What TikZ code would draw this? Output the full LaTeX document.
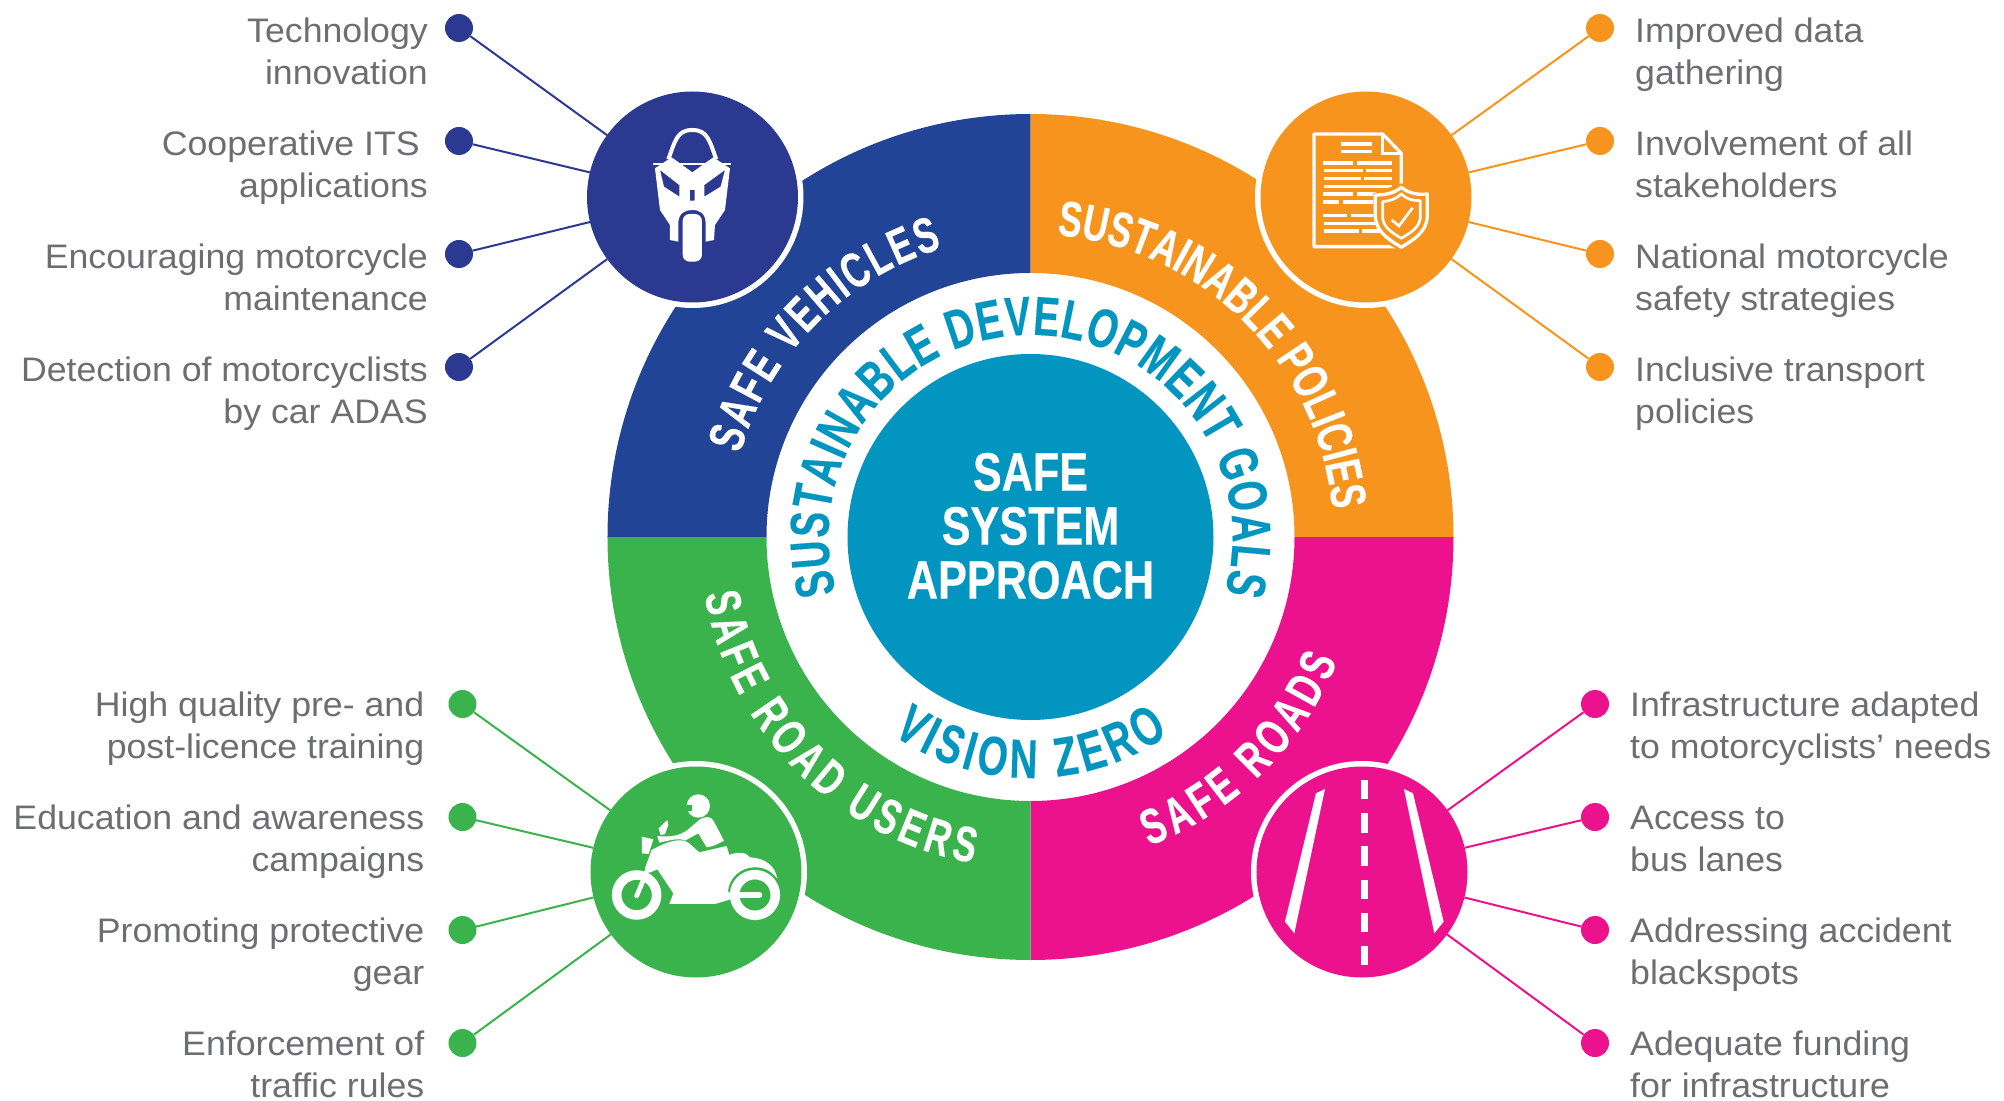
\documentclass[tikz,border=0pt]{standalone}
\usepackage{fontspec}
\usetikzlibrary{positioning,decorations.text}
\setmainfont[FakeStretch=1.05]{Liberation Sans}
\newfontfamily\condfont[FakeStretch=0.8,FakeBold=0.3,UprightFont=* Bold]{Liberation Sans}
\newfontfamily\arcfont[FakeStretch=0.7,FakeBold=0.3,UprightFont=* Bold]{Liberation Sans}
\definecolor{segblue}{HTML}{224496}
\definecolor{iconblue}{HTML}{2B3A90}
\definecolor{segorange}{HTML}{F7941E}
\definecolor{seggreen}{HTML}{3BB34C}
\definecolor{segpink}{HTML}{EC118C}
\definecolor{coreteal}{HTML}{0295C0}
\definecolor{labelgrey}{HTML}{6D6E71}
\tikzset{
  icon/.style={circle,fill=#1,minimum size=211pt,inner sep=0pt,outer sep=0pt,
    preaction={draw=white,line width=11pt}},
  dot/.style={circle,fill=#1,minimum size=28pt,inner sep=0pt,outer sep=0pt},
  lefttxt/.style={font=\fontsize{34}{42}\selectfont,text=labelgrey,align=right,inner sep=0pt,anchor=base east},
  righttxt/.style={font=\fontsize{34}{42}\selectfont,text=labelgrey,align=left,inner sep=0pt,anchor=base west},
  ringtxt/.style={decorate,decoration={text along path,text align={fit to path},
    text={|\arcfont\fontsize{50}{50}\selectfont\color{white}|#1}}},
  coretxt/.style={decorate,decoration={text along path,text align={fit to path},
    text={|\arcfont\fontsize{55}{55}\selectfont\color{coreteal}|#1}}},
}
\begin{document}
\begin{tikzpicture}[x=1pt,y=1pt,node distance=113pt,on grid]
    \useasboundingbox (-1030.5,-563) rectangle (973.5,537);
    % quarter segments
    \fill[segblue] (180:423pt) arc[start angle=180,end angle=90,radius=423pt]
        -- (90:264pt) arc[start angle=90,end angle=180,radius=264pt] -- cycle;
    \fill[segorange] (90:423pt) arc[start angle=90,end angle=0,radius=423pt]
        -- (0:264pt) arc[start angle=0,end angle=90,radius=264pt] -- cycle;
    \fill[segpink] (0:423pt) arc[start angle=0,end angle=-90,radius=423pt]
        -- (-90:264pt) arc[start angle=-90,end angle=0,radius=264pt] -- cycle;
    \fill[seggreen] (-90:423pt) arc[start angle=-90,end angle=-180,radius=423pt]
        -- (180:264pt) arc[start angle=180,end angle=270,radius=264pt] -- cycle;
    \node[circle,fill=coreteal,minimum size=366pt,inner sep=0pt] (core) at (0,0) {};
    \node[text=white,align=center,font=\condfont\fontsize{54}{54}\selectfont] (title) at (0,11) {SAFE\\SYSTEM\\APPROACH};
    % texts on the rings
    \path[ringtxt={SAFE VEHICLES}] (164:302pt) arc[start angle=164,end angle=107,radius=302pt];
    \path[ringtxt={SUSTAINABLE POLICIES}] (85:303pt) arc[start angle=85,end angle=6,radius=303pt];
    \path[ringtxt={SAFE ROAD USERS}] (190:331pt) arc[start angle=190,end angle=260,radius=331pt];
    \path[ringtxt={SAFE ROADS}] (291:331pt) arc[start angle=291,end angle=338,radius=331pt];
    \path[coretxt={SUSTAINABLE DEVELOPMENT GOALS}] (196:202pt) arc[start angle=196,end angle=-16,radius=202pt];
    \path[coretxt={VISION ZERO}] (235:241pt) arc[start angle=235,end angle=305,radius=241pt];
    % the four icons
    \node[icon=iconblue] (vehicles) at (-338,340) {};
    \node[icon=segorange] (policies) at (335.5,340) {};
    \node[icon=seggreen] (users) at (-334.5,-335) {};
    \node[icon=segpink] (roads) at (331.5,-335) {};
    % front of the motorcycle
    \begin{scope}[shift={(-470.5,467)},x=.3333pt,y=-.3333pt]
        \draw[white,line width=4pt] (325,268) .. controls (345,215) and (350,180) .. (397,180)
            .. controls (444,180) and (449,215) .. (469,268);
        \draw[white,line width=2pt] (280,282) -- (514,282);
        \fill[white,even odd rule] (285,295) -- (300,420) -- (330,465) -- (330,510) -- (355,515)
            -- (355,460) .. controls (355,430) and (375,420) .. (397,420)
            .. controls (419,420) and (437,430) .. (437,460) -- (437,515) -- (462,510) -- (465,465)
            -- (495,420) -- (510,295) -- (460,262) -- (397,307) -- (335,262) -- cycle
            (300,300) -- (358,345) -- (358,380) -- (312,350) -- cycle
            (495,300) -- (433,345) -- (433,380) -- (482,350) -- cycle
            (390,360) rectangle (404,392);
        \fill[white,rounded corners=7pt] (368,432) rectangle (426,575);
    \end{scope}
    % document with shield
    \begin{scope}[shift={(209.5,467)},x=.3333pt,y=-.3333pt,line cap=butt]
        \draw[white,line width=3.3pt,line join=round] (484,350) -- (484,250) -- (428,192) -- (222,192)
            -- (222,530) -- (470,530);
        \draw[white,line width=3.3pt] (428,192) -- (428,250) -- (484,250);
        \foreach \ya/\xa/\xb in {222/303/396,245/303/396,279/249/339,279/351/456,302/252/369,302/378/456,
            326/252/363,326/373/456,350/252/456,372/249/339,372/350/410,396/249/297,396/309/405,
            437/249/321,437/333/405,460/251/410,483/252/357,483/367/420}
            \draw[white,line width=3.3pt] (\xa,\ya) -- (\xb,\ya);
        \fill[segorange] (484,340) -- (400,370) -- (400,440) -- (440,520) -- (484,545) -- (570,500) -- (570,360) -- cycle;
        \draw[white,line width=3.3pt,line join=round] (484,352) .. controls (460,372) and (430,375) .. (406,375)
            -- (406,440) .. controls (410,490) and (450,510) .. (484,532)
            .. controls (518,510) and (558,490) .. (562,440) -- (562,372)
            .. controls (538,375) and (508,372) .. (484,352) -- cycle;
        \draw[white,line width=2.7pt,line join=round] (484,372) .. controls (468,388) and (448,393) .. (428,395)
            -- (428,445) .. controls (432,475) and (460,490) .. (484,505)
            .. controls (508,490) and (537,475) .. (541,445) -- (541,392)
            .. controls (520,393) and (500,388) .. (484,372) -- cycle;
        \draw[white,line width=2.7pt] (455,450) -- (477,468) -- (518,413);
    \end{scope}
    % rider on a motorcycle
    \begin{scope}[shift={(-460.5,-213)},x=.3333pt,y=-.3333pt]
        \fill[white] (385,168) circle[radius=35];
        \fill[seggreen] (343,165) rectangle (366,182);
        \fill[white] (262,258) .. controls (300,262) and (330,258) .. (355,238) -- (385,212)
            .. controls (405,196) and (425,198) .. (432,215) -- (462,272)
            .. controls (440,285) and (425,290) .. (410,292) -- (385,250) -- (345,272)
            .. controls (330,262) and (295,272) .. (268,278) -- cycle;
        \fill[white] (216,260) -- (250,268) -- (236,312) -- (216,310) -- cycle;
        \fill[white] (266,235) -- (292,210) -- (295,225) -- (285,252) -- (272,255) -- cycle;
        \fill[white] (245,300) .. controls (290,275) and (330,262) .. (355,278) -- (388,307)
            -- (470,288) -- (478,315) .. controls (500,305) and (530,305) .. (540,322)
            .. controls (590,325) and (615,350) .. (622,385)
            .. controls (590,350) and (530,335) .. (490,385) -- (478,428) -- (482,448)
            -- (435,462) -- (298,462) -- (310,430) -- (262,358) -- (240,368) -- (225,355) -- cycle;
        \draw[white,line width=4.7pt,line cap=round] (245,330) -- (200,438);
        \draw[white,line width=9.5pt] (200,435) circle[radius=60];
        \draw[seggreen,line width=2pt] (477,425) .. controls (480,385) and (515,355) .. (555,355)
            .. controls (580,355) and (600,365) .. (612,380);
        \draw[white,line width=9.5pt] (555,435) circle[radius=61];
        \draw[white,line width=6pt,line cap=round] (485,435) -- (568,435);
    \end{scope}
    % road
    \begin{scope}[shift={(209.5,-213)},x=.3333pt,y=-.3333pt]
        \foreach \ya/\yb in {90/148,190/248,289/347,389/447,489/547,588/646}
            \fill[white] (362,\ya) rectangle (385,\yb);
        \fill[white] (255,117) -- (228,130) -- (135,515) -- (163,550) -- cycle;
        \fill[white] (492,117) -- (519,130) -- (611,515) -- (583,550) -- cycle;
    \end{scope}
    % safe vehicles list
    \node[dot=iconblue] (b_1) at (-571.5,509) {};
    \node[dot=iconblue] (b_2) [below=of b_1] {};
    \node[dot=iconblue] (b_3) [below=of b_2] {};
    \node[dot=iconblue] (b_4) [below=of b_3] {};
    \node[lefttxt] (bl_1) at ([xshift=-31pt,yshift=-57pt]b_1) {Technology\\innovation};
    \node[lefttxt] (bl_2) at ([xshift=-31pt,yshift=-57pt]b_2) {Cooperative ITS\hspace*{8pt}\\applications};
    \node[lefttxt] (bl_3) at ([xshift=-31pt,yshift=-57pt]b_3) {Encouraging motorcycle\\maintenance};
    \node[lefttxt] (bl_4) at ([xshift=-31pt,yshift=-57pt]b_4) {Detection of motorcyclists\\by car ADAS};
    \path[iconblue,line width=2pt]
        (b_1) edge (vehicles)
        (b_2) edge (vehicles)
        (b_3) edge (vehicles)
        (b_4) edge (vehicles);
    % sustainable policies list
    \node[dot=segorange] (o_1) at (569.5,509) {};
    \node[dot=segorange] (o_2) [below=of o_1] {};
    \node[dot=segorange] (o_3) [below=of o_2] {};
    \node[dot=segorange] (o_4) [below=of o_3] {};
    \node[righttxt] (ol_1) at ([xshift=35pt,yshift=-57pt]o_1) {Improved data\\gathering};
    \node[righttxt] (ol_2) at ([xshift=35pt,yshift=-57pt]o_2) {Involvement of all\\stakeholders};
    \node[righttxt] (ol_3) at ([xshift=35pt,yshift=-57pt]o_3) {National motorcycle\\safety strategies};
    \node[righttxt] (ol_4) at ([xshift=35pt,yshift=-57pt]o_4) {Inclusive transport\\policies};
    \path[segorange,line width=2pt]
        (o_1) edge (policies)
        (o_2) edge (policies)
        (o_3) edge (policies)
        (o_4) edge (policies);
    % safe road users list
    \node[dot=seggreen] (g_1) at (-568,-167) {};
    \node[dot=seggreen] (g_2) [below=of g_1] {};
    \node[dot=seggreen] (g_3) [below=of g_2] {};
    \node[dot=seggreen] (g_4) [below=of g_3] {};
    \node[lefttxt] (gl_1) at ([xshift=-38pt,yshift=-54pt]g_1) {High quality pre- and\\post-licence training};
    \node[lefttxt] (gl_2) at ([xshift=-38pt,yshift=-54pt]g_2) {Education and awareness\\campaigns};
    \node[lefttxt] (gl_3) at ([xshift=-38pt,yshift=-54pt]g_3) {Promoting protective\\gear};
    \node[lefttxt] (gl_4) at ([xshift=-38pt,yshift=-54pt]g_4) {Enforcement of\\traffic rules};
    \path[seggreen,line width=2pt]
        (g_1) edge (users)
        (g_2) edge (users)
        (g_3) edge (users)
        (g_4) edge (users);
    % safe roads list
    \node[dot=segpink] (p_1) at (564.5,-167) {};
    \node[dot=segpink] (p_2) [below=of p_1] {};
    \node[dot=segpink] (p_3) [below=of p_2] {};
    \node[dot=segpink] (p_4) [below=of p_3] {};
    \node[righttxt] (pl_1) at ([xshift=35pt,yshift=-54pt]p_1) {Infrastructure adapted\\to motorcyclists’ needs};
    \node[righttxt] (pl_2) at ([xshift=35pt,yshift=-54pt]p_2) {Access to\\bus lanes};
    \node[righttxt] (pl_3) at ([xshift=35pt,yshift=-54pt]p_3) {Addressing accident\\blackspots};
    \node[righttxt] (pl_4) at ([xshift=35pt,yshift=-54pt]p_4) {Adequate funding\\for infrastructure};
    \path[segpink,line width=2pt]
        (p_1) edge (roads)
        (p_2) edge (roads)
        (p_3) edge (roads)
        (p_4) edge (roads);
\end{tikzpicture}
\end{document}
